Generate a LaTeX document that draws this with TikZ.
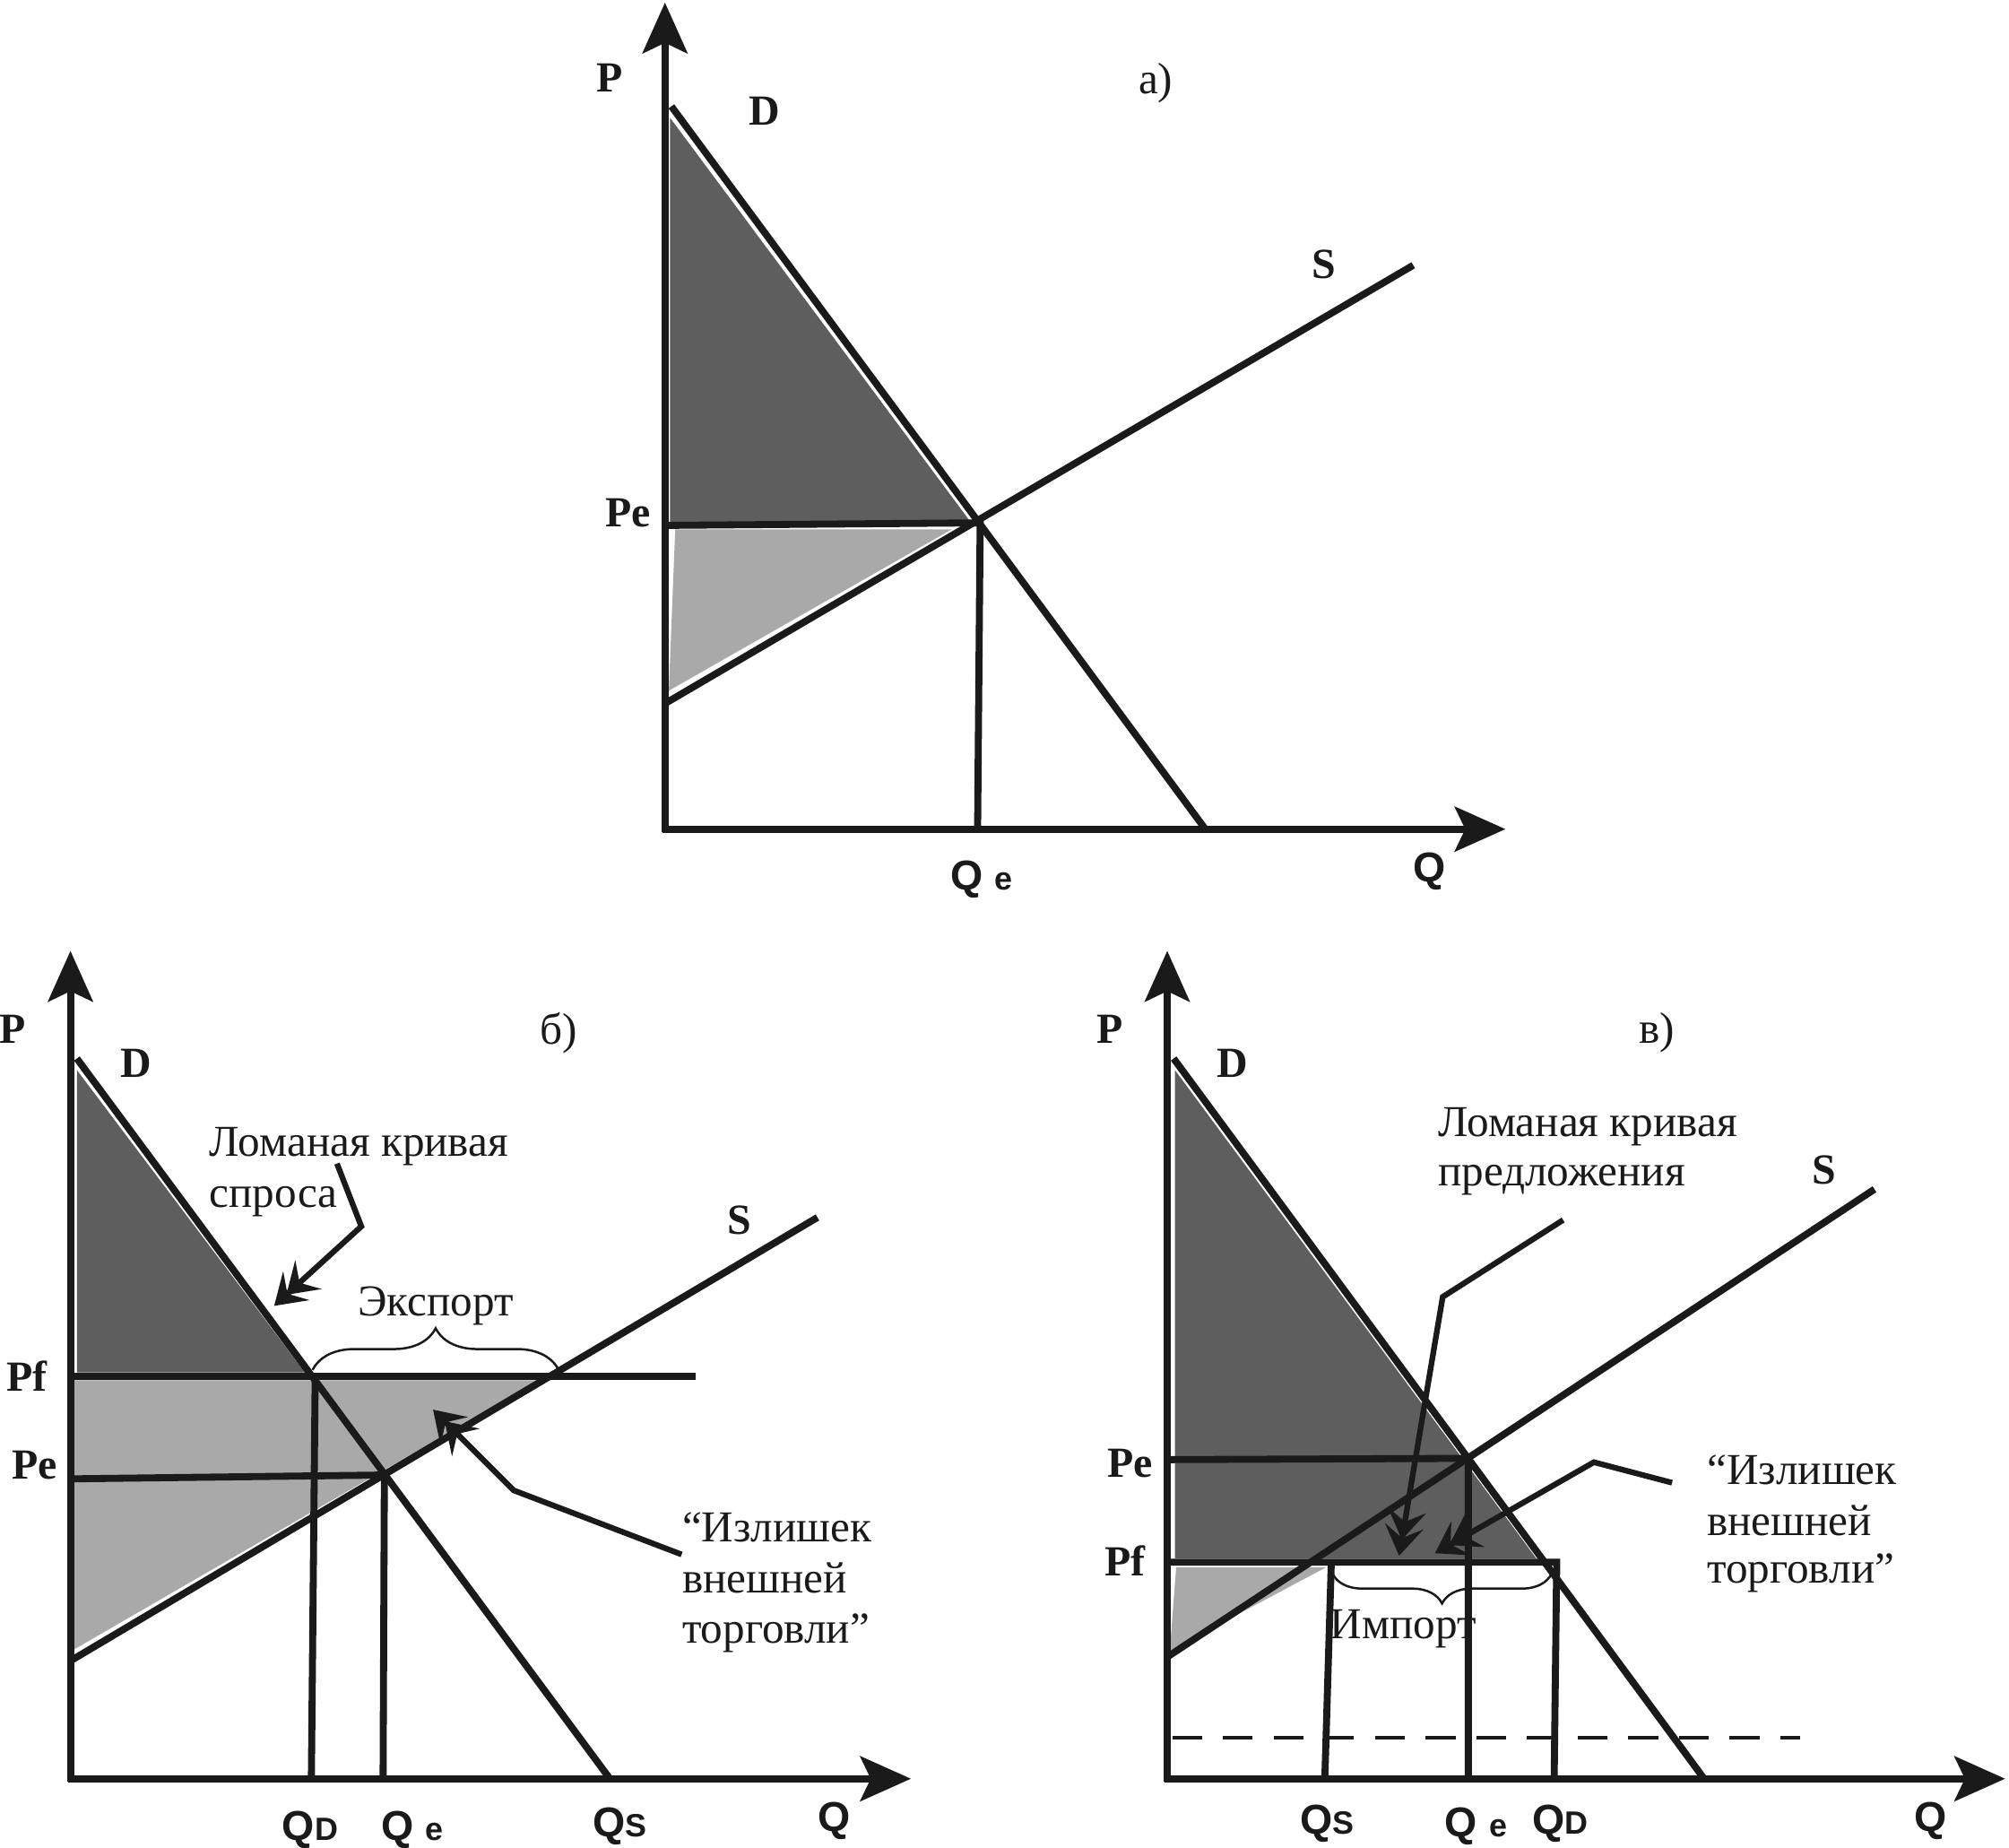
\documentclass[tikz,border=0pt]{standalone}
\usepackage{fontspec}
\setmainfont{Liberation Serif}
\setsansfont{Liberation Sans}
\usetikzlibrary{arrows.meta,decorations.pathreplacing}
\definecolor{darkg}{HTML}{5E5E5E}
\definecolor{lightg}{HTML}{A9A9A9}
\definecolor{ink}{HTML}{1A1A1A}
\newcommand{\smallsub}[1]{{\fontsize{10.8}{12}\selectfont #1}}
\begin{document}
\begin{tikzpicture}[x=0.43pt,y=-0.43pt,
 ax/.style={draw=ink,line width=2.4pt,-{Stealth[length=17pt,width=15pt,inset=3.5pt]}},
 crv/.style={draw=ink,line width=2.35pt},
 ptr/.style={draw=ink,line width=1.9pt,-{Stealth[length=10pt,width=13pt,inset=4pt,sep=-4.5pt]Stealth[length=10pt,width=13pt,inset=4pt]}},
 lbl/.style={font=\fontsize{14.4}{16}\selectfont\bfseries, inner sep=0pt, text=ink},
 qlbl/.style={font=\sffamily\bfseries\fontsize{14}{16}\selectfont, inner sep=0pt, text=ink},
 txt/.style={font=\fontsize{14.8}{17.2}\selectfont, inner sep=0pt, anchor=base west, text=ink},
 ctxt/.style={font=\fontsize{14.8}{17.2}\selectfont, inner sep=0pt, text=ink},
 brc/.style={draw=ink,decorate, decoration={brace,amplitude=14pt}, line width=0.75pt}
]
\useasboundingbox (0,0) rectangle (1568,1442);
\fill[white] (0,0) rectangle (1568,1442);

% ---------------- panel a ----------------
\coordinate (aYb) at (519,649);
\coordinate (aYt) at (519,2);
\coordinate (aXb) at (517,647);
\coordinate (aXt) at (1175,647);
\coordinate (aD1) at (524,83);
\coordinate (aD2) at (940,646);
\coordinate (aS1) at (519,549);
\coordinate (aS2) at (1103,207);
\coordinate (aE) at (765,408);
\coordinate (aPe) at (519,410);
\coordinate (aQe) at (763,647);
\fill[darkg] (523,92) -- (523,408) -- (758,408) -- cycle;
\fill[lightg] (527,413) -- (743,413) -- (522,539) -- cycle;
\draw[crv] (aD1) -- (aD2);
\draw[crv] (aS1) -- (aS2);
\draw[crv] (aPe) -- (aE) -- (aQe);
\draw[ax] (aYb) -- (aYt);
\draw[ax] (aXb) -- (aXt);
\node[lbl] (aP) at (476,61) {P};
\node[lbl] (aDl) at (597,87) {D};
\node[ctxt] (atitle) at (902,65) {а)};
\node[lbl] (aSl) at (1033,206) {S};
\node[lbl] (aPel) at (490,400) {Pe};
\node[qlbl] (aQel) at (766,686) {Q \smallsub{e}};
\node[qlbl] (aQl) at (1116,680) {Q};

% ---------------- panel b ----------------
\coordinate (bYb) at (55,1390);
\coordinate (bYt) at (55,742);
\coordinate (bXb) at (53,1388);
\coordinate (bXt) at (711,1388);
\coordinate (bD1) at (60,826);
\coordinate (bD2) at (476,1388);
\coordinate (bS1) at (55,1296);
\coordinate (bS2) at (638,950);
\coordinate (bPf1) at (55,1074);
\coordinate (bPf2) at (543,1074);
\coordinate (bPe1) at (55,1154);
\coordinate (bE) at (300,1151);
\coordinate (bQD1) at (246,1074);
\coordinate (bQD2) at (243,1390);
\coordinate (bQe2) at (299,1388);
\fill[darkg] (60,835) -- (60,1071) -- (238,1071) -- cycle;
\fill[lightg] (58,1077) -- (421,1077) -- (58,1287) -- cycle;
\draw[crv] (bD1) -- (bD2);
\draw[crv] (bS1) -- (bS2);
\draw[crv] (bPf1) -- (bPf2);
\draw[crv] (bPe1) -- (bE) -- (bQe2);
\draw[crv] (bQD1) -- (bQD2);
\draw[ax] (bYb) -- (bYt);
\draw[ax] (bXb) -- (bXt);
\coordinate (bBr1) at (244,1069);
\coordinate (bBr2) at (436,1069);
\draw[brc] (bBr1) -- (bBr2);
\node[lbl] (bP) at (10,803) {P};
\node[lbl] (bDl) at (106,830) {D};
\node[ctxt] (btitle) at (436,806) {б)};
\node[lbl] (bSl) at (577,952) {S};
\node[lbl] (bPfl) at (21,1074) {Pf};
\node[lbl] (bPel) at (27,1143) {Pe};
\node[qlbl] (bQDl) at (242,1428) {Q\smallsub{D}};
\node[qlbl] (bQel) at (322,1428) {Q \smallsub{e}};
\node[qlbl] (bQSl) at (484,1425) {Q\smallsub{S}};
\node[qlbl] (bQl) at (651,1421) {Q};
\node[txt] (bt1) at (163,902) {Ломаная кривая};
\node[txt] (bt2) at (163,942) {спроса};
\node[ctxt] (bexp) at (340,1019) {Экспорт};
\node[txt] (bt3) at (532,1203) {“Излишек};
\node[txt] (bt4) at (532,1243) {внешней};
\node[txt] (bt5) at (532,1282) {торговли”};
\coordinate (bA1) at (263,908);
\coordinate (bA2) at (282,957);
\coordinate (bA3) at (214,1019);
\draw[ptr] (bA1) -- (bA2) -- (bA3);
\coordinate (bB1) at (532,1213);
\coordinate (bB2) at (401,1163);
\coordinate (bB3) at (338,1100);
\draw[ptr] (bB1) -- (bB2) -- (bB3);

% ---------------- panel v ----------------
\coordinate (cYb) at (911,1390);
\coordinate (cYt) at (911,742);
\coordinate (cXb) at (909,1388);
\coordinate (cXt) at (1565,1388);
\coordinate (cD1) at (916,826);
\coordinate (cD2) at (1330,1388);
\coordinate (cS1) at (911,1293);
\coordinate (cS2) at (1463,928);
\coordinate (cPe1) at (911,1139);
\coordinate (cE) at (1146,1138);
\coordinate (cQe2) at (1146,1390);
\coordinate (cPf1) at (911,1219);
\coordinate (cPf2) at (1215,1219);
\coordinate (cQD2) at (1213,1388);
\coordinate (cQS1) at (1039,1221);
\coordinate (cQS2) at (1034,1388);
\coordinate (cDa1) at (915,1356);
\coordinate (cDa2) at (1405,1356);
\fill[darkg] (917,835) -- (917,1216) -- (1199,1216) -- cycle;
\fill[lightg] (918,1223) -- (1035,1223) -- (913,1288) -- cycle;
\draw[crv] (cD1) -- (cD2);
\draw[crv] (cS1) -- (cS2);
\draw[crv] (cPe1) -- (cE) -- (cQe2);
\draw[crv] (cPf1) -- (cPf2) -- (cQD2);
\draw[crv] (cQS1) -- (cQS2);
\draw[draw=ink,line width=1.3pt,dash pattern=on 10pt off 7pt] (cDa1) -- (cDa2);
\draw[ax] (cYb) -- (cYt);
\draw[ax] (cXb) -- (cXt);
\coordinate (cBr1) at (1211,1228);
\coordinate (cBr2) at (1040,1228);
\draw[brc,decoration={brace,amplitude=10pt}] (cBr1) -- (cBr2);
\node[lbl] (cP) at (866,803) {P};
\node[lbl] (cDl) at (962,830) {D};
\node[ctxt] (ctitle) at (1293,806) {в)};
\node[lbl] (cSl) at (1424,913) {S};
\node[lbl] (cPel) at (882,1142) {Pe};
\node[lbl] (cPfl) at (878,1218) {Pf};
\node[qlbl] (cQSl) at (1036,1423) {Q\smallsub{S}};
\node[qlbl] (cQel) at (1152,1425) {Q \smallsub{e}};
\node[qlbl] (cQDl) at (1218,1423) {Q\smallsub{D}};
\node[qlbl] (cQl) at (1507,1421) {Q};
\node[txt] (ct1) at (1122,887) {Ломаная кривая};
\node[txt] (ct2) at (1122,925) {предложения};
\node[ctxt] (cimp) at (1095,1271) {Импорт};
\node[txt] (ct3) at (1332,1158) {“Излишек};
\node[txt] (ct4) at (1332,1198) {внешней};
\node[txt] (ct5) at (1332,1235) {торговли”};
\coordinate (cA1) at (1220,952);
\coordinate (cA2) at (1126,1012);
\coordinate (cA3) at (1092,1214);
\draw[ptr] (cA1) -- (cA2) -- (cA3);
\coordinate (cB1) at (1305,1157);
\coordinate (cB2) at (1244,1141);
\coordinate (cB3) at (1120,1212);
\draw[ptr] (cB1) -- (cB2) -- (cB3);
\end{tikzpicture}
\end{document}
